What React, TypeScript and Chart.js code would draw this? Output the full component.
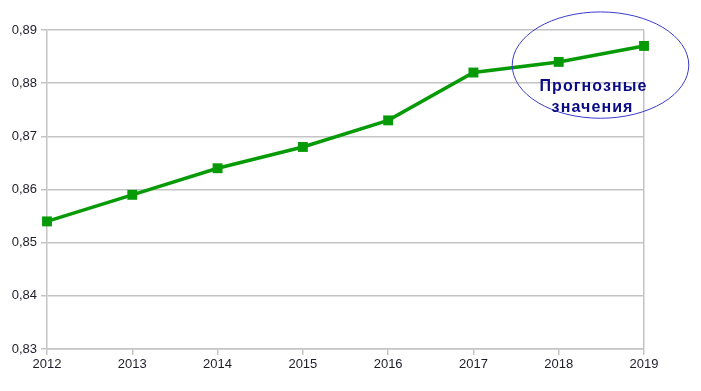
import React, { useEffect, useRef } from "react";
import { Chart, registerables } from "chart.js";

Chart.register(...registerables);

const years = ["2012", "2013", "2014", "2015", "2016", "2017", "2018", "2019"];
const values = [0.854, 0.859, 0.864, 0.868, 0.873, 0.882, 0.884, 0.887];
const yMin = 0.83;
const yMax = 0.89;
const yStep = 0.01;
const noteLines = ["Прогнозные", "значения"];

const GRID = "#c4c4c4";
const GREEN = "#079a07";

const ellipsePlugin = {
  id: "forecastEllipse",
  afterDatasetsDraw(chart: any) {
    const { ctx, scales } = chart;
    const xs = scales.x;
    const ys = scales.y;
    const x6 = xs.getPixelForValue(6);
    const x7 = xs.getPixelForValue(7);
    const cw = x7 - x6;
    const cx = x6 + cw * 0.49;
    const cy = ys.getPixelForValue(0.8834);
    const rx = cw * 1.035;
    const ry = Math.abs(ys.getPixelForValue(0.88) - ys.getPixelForValue(0.89));
    ctx.save();
    ctx.beginPath();
    ctx.ellipse(cx, cy, rx, ry, 0, 0, Math.PI * 2);
    ctx.strokeStyle = "#3a3acc";
    ctx.lineWidth = 1;
    ctx.stroke();
    ctx.fillStyle = "#0a0a85";
    ctx.font = "bold 16px 'Liberation Sans', Arial, sans-serif";
    const ls = 1.1;
    try {
      (ctx as any).letterSpacing = ls + "px";
    } catch (e) {}
    ctx.textAlign = "center";
    ctx.textBaseline = "alphabetic";
    ctx.fillText(noteLines[0], cx - 7.5 + ls / 2, cy + 26);
    ctx.fillText(noteLines[1], cx - 8.5 + ls / 2, cy + 47);
    ctx.restore();
  },
};

export default function App() {
  const ref = useRef<HTMLCanvasElement | null>(null);
  useEffect(() => {
    document.body.style.margin = "0";
    const canvas = ref.current!;
    const chart = new Chart(canvas, {
      type: "line",
      data: {
        labels: years,
        datasets: [
          {
            data: values,
            borderColor: GREEN,
            backgroundColor: GREEN,
            borderWidth: 3.5,
            pointStyle: "rect",
            pointRadius: 7,
            pointBorderWidth: 0,
            tension: 0,
          },
        ],
      },
      options: {
        responsive: false,
        animation: false,
        layout: { padding: { top: 30, right: 57, left: 0, bottom: 0 } },
        plugins: { legend: { display: false }, tooltip: { enabled: false } },
        scales: {
          x: {
            type: "category",
            offset: false,
            afterFit: (s: any) => {
              s.height = 42;
            },
            border: { display: true, color: GRID, width: 1.5 },
            grid: {
              drawOnChartArea: true,
              color: (c: any) => (c.index === 7 ? GRID : "rgba(0,0,0,0)"),
              tickColor: GRID,
              tickLength: 6,
              lineWidth: 1.5,
            },
            ticks: {
              color: "#1e1e2a",
              font: { family: "'Liberation Sans', Arial, sans-serif", size: 13 },
              padding: 2,
              maxRotation: 0,
            },
          },
          y: {
            min: yMin,
            max: yMax,
            afterFit: (s: any) => {
              s.width = 47;
            },
            border: { display: true, color: GRID, width: 1.5 },
            grid: {
              color: GRID,
              tickColor: GRID,
              tickLength: 6,
              lineWidth: 1.5,
            },
            ticks: {
              stepSize: yStep,
              color: "#1e1e2a",
              font: { family: "'Liberation Sans', Arial, sans-serif", size: 13 },
              padding: 4,
              callback: (v: any) => Number(v).toFixed(2).replace(".", ","),
            },
          },
        },
      },
      plugins: [ellipsePlugin],
    });
    return () => chart.destroy();
  }, []);
  return (
    <div style={{ width: 701, height: 391 }}>
      <canvas ref={ref} width={701} height={391} style={{ display: "block" }} />
    </div>
  );
}
